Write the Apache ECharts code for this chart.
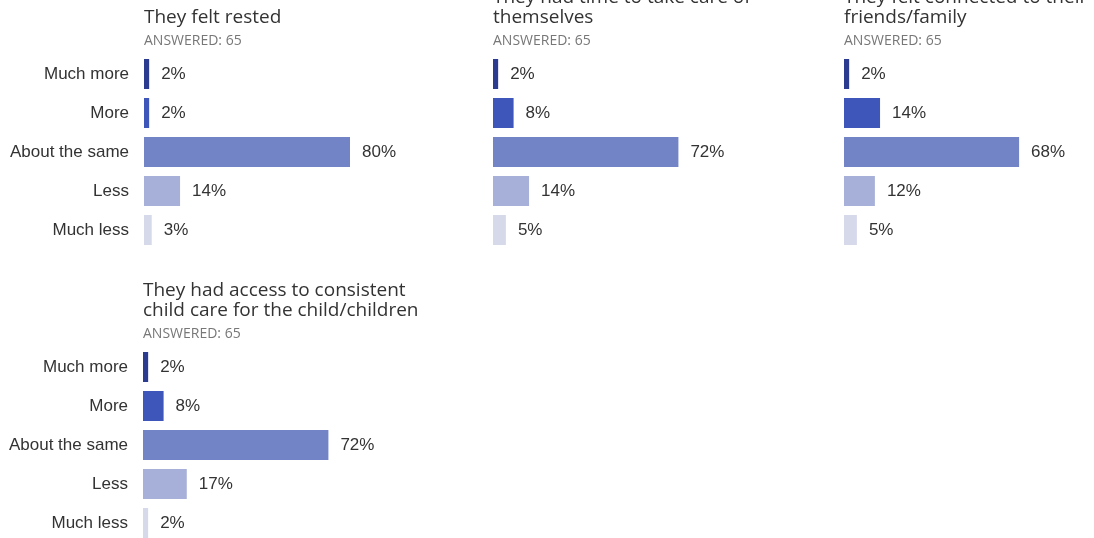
<!DOCTYPE html>
<html>
<head>
<meta charset="utf-8">
<script src="https://cdn.jsdelivr.net/npm/echarts@6/dist/echarts.min.js"></script>
<style>
  html, body { margin: 0; padding: 0; background: #fff; }
  #main { width: 1094px; height: 538px; }
</style>
</head>
<body>
<div id="main"></div>
<script>
var myChart = echarts.init(document.getElementById('main'));

// answers, top to bottom
var categories = ['Much more', 'More', 'About the same', 'Less', 'Much less'];
var barColors = ['#2b3b8f', '#3e56b9', '#7283c6', '#a7b0d8', '#d6d9ea'];

var titles = [
    'They felt rested',
    'They had time to take care of\nthemselves',
    'They felt connected to their\nfriends/family',
    'They had access to consistent\nchild care for the child/children'
];
var answered = 'ANSWERED: 65';

// percent per answer
var rested = [2, 2, 80, 14, 3];
var selfCare = [2, 8, 72, 14, 5];
var connected = [2, 14, 68, 12, 5];
var childCare = [2, 8, 72, 17, 2];

var panelData = [rested, selfCare, connected, childCare];

// panel placement
var panels = [
    { left: 144, top: 54.5, titleTop: 8, showCats: true },
    { left: 493, top: 54.5, titleTop: -12, showCats: false },
    { left: 844, top: 54.5, titleTop: -12, showCats: false },
    { left: 143, top: 347.5, titleTop: 281, showCats: true }
];

var option = {
    animation: false,
    title: [],
    grid: [],
    xAxis: [],
    yAxis: [],
    series: []
};

panels.forEach(function (p, i) {
    option.title.push({
        text: titles[i],
        subtext: answered,
        left: p.left,
        top: p.titleTop,
        padding: 0,
        itemGap: 6,
        textStyle: {
            fontFamily: 'Open Sans',
            fontSize: 19,
            fontWeight: 'normal',
            color: '#333',
            lineHeight: 20
        },
        subtextStyle: {
            fontFamily: 'Open Sans',
            fontSize: 14,
            color: '#777',
            lineHeight: 14
        }
    });
    option.grid.push({
        left: p.left,
        top: p.top,
        width: 206,
        height: 195,
        outerBoundsMode: 'none',
        containLabel: false
    });
    option.xAxis.push({
        gridIndex: i,
        type: 'value',
        min: 0,
        max: 80,
        show: false
    });
    option.yAxis.push({
        gridIndex: i,
        type: 'category',
        inverse: true,
        data: categories,
        axisLine: { show: false },
        axisTick: { show: false },
        splitLine: { show: false },
        axisLabel: {
            show: p.showCats,
            margin: 15,
            fontFamily: 'Liberation Sans',
            fontSize: 17,
            color: '#333'
        }
    });
    option.series.push({
        type: 'bar',
        xAxisIndex: i,
        yAxisIndex: i,
        data: panelData[i],
        barCategoryGap: '23%',
        itemStyle: {
            color: function (params) {
                return barColors[params.dataIndex];
            }
        },
        label: {
            show: true,
            position: 'right',
            distance: 12,
            formatter: '{c}%',
            fontFamily: 'Liberation Sans',
            fontSize: 17,
            color: '#333'
        }
    });
});

myChart.setOption(option);
</script>
</body>
</html>
